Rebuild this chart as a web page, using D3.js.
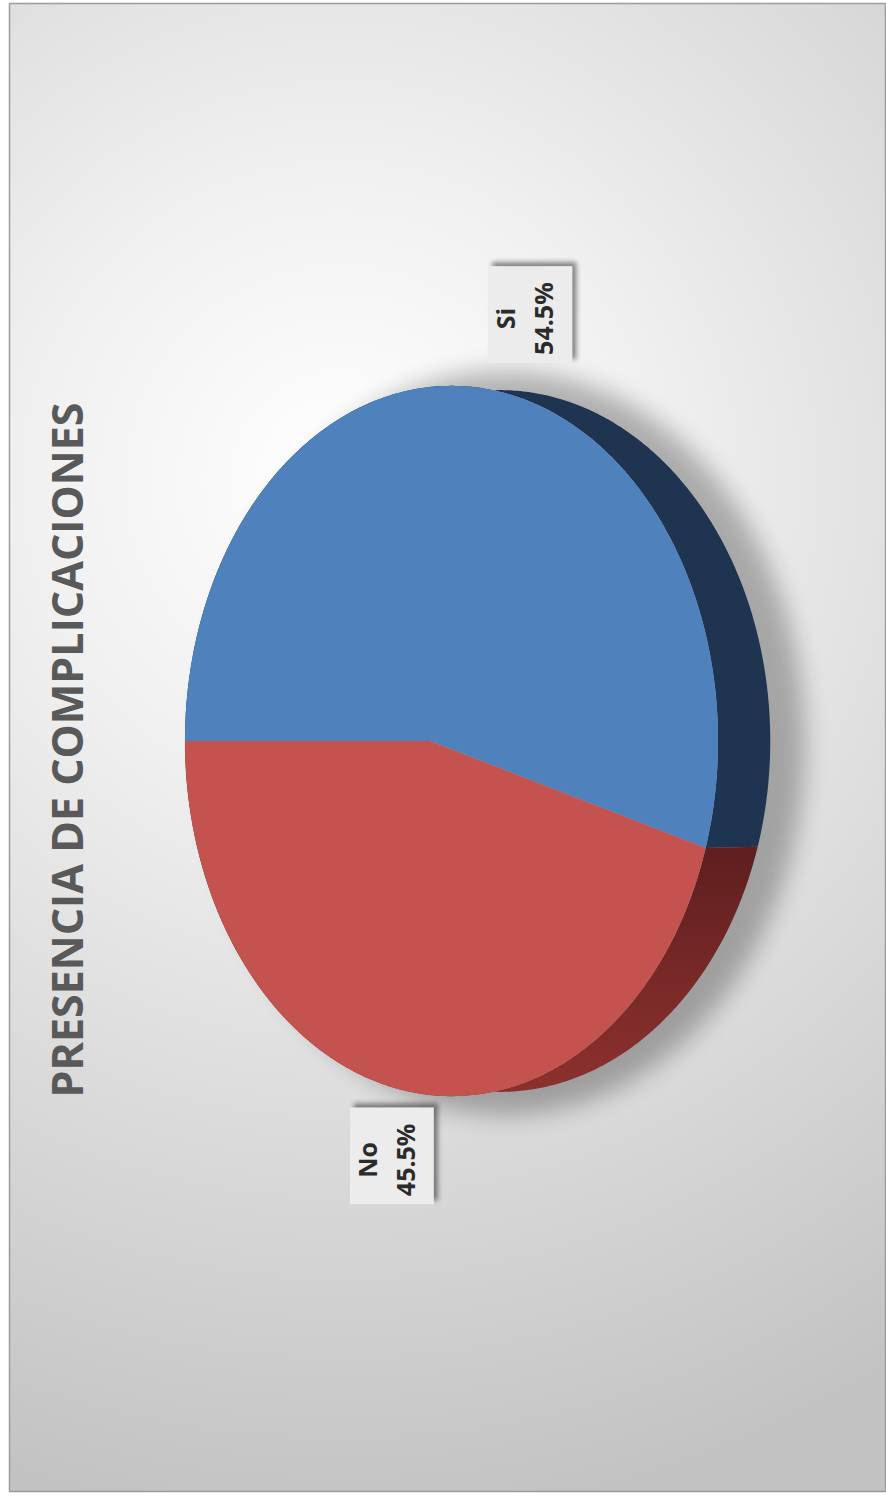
<!DOCTYPE html>
<html>
<head>
<meta charset="utf-8">
<script src="https://cdn.jsdelivr.net/npm/d3@7"></script>
<style>
  html, body { margin: 0; padding: 0; background: #ffffff; }
  svg { display: block; }
</style>
</head>
<body>
<svg id="chart" width="886" height="1497"></svg>
<script>
// ---- data ----
const categories = ["Si", "No"];
const values = [54.5, 45.5];
const valueLabels = ["54.5%", "45.5%"];
const title = "PRESENCIA DE COMPLICACIONES";

// ---- styling ----
const topColors = ["#4f81bd", "#c4524f"];
const sideColors = ["#1f3450", "#6b2524"];

const W = 886, H = 1497;
const svg = d3.select("#chart");
const defs = svg.append("defs");

// background gradient
const bg = defs.append("radialGradient").attr("id", "bgGrad")
  .attr("gradientUnits", "userSpaceOnUse")
  .attr("cx", 340).attr("cy", 480).attr("r", 1050);
bg.append("stop").attr("offset", 0).attr("stop-color", "#ffffff");
bg.append("stop").attr("offset", 0.3).attr("stop-color", "#f0f0f0");
bg.append("stop").attr("offset", 1).attr("stop-color", "#c2c2c2");

const blurBig = defs.append("filter").attr("id", "blurBig")
  .attr("x", "-30%").attr("y", "-30%").attr("width", "160%").attr("height", "160%");
blurBig.append("feGaussianBlur").attr("stdDeviation", 12);

const blurSmall = defs.append("filter").attr("id", "blurSmall")
  .attr("x", "-20%").attr("y", "-20%").attr("width", "140%").attr("height", "140%");
blurSmall.append("feGaussianBlur").attr("stdDeviation", 2.5);

const redSide = defs.append("linearGradient").attr("id", "redSide")
  .attr("gradientUnits", "userSpaceOnUse")
  .attr("x1", 0).attr("y1", 850).attr("x2", 0).attr("y2", 1080);
redSide.append("stop").attr("offset", 0).attr("stop-color", "#5e1f1e");
redSide.append("stop").attr("offset", 0.6).attr("stop-color", "#7a2a28");
redSide.append("stop").attr("offset", 1).attr("stop-color", "#8a302d");

// chart area
svg.append("rect")
  .attr("x", 9.5).attr("y", 3.5).attr("width", 876).attr("height", 1488)
  .attr("fill", "url(#bgGrad)").attr("stroke", "#9c9c9c").attr("stroke-width", 1.5);

// ---- 3D pie projection (chart is turned a quarter turn; 12 o'clock points left) ----
const cx = 430, cy = 741;       // hub of the top face
const A = 264.8;                // far/near half-extent scale
const B = 354;                  // lateral half-extent
const k = 0.0807;               // perspective strength
const depth = 48;               // thickness of the disc

function project(theta, r = 1, level = 0) {
  const p = -Math.cos(theta) * r;
  const q = Math.sin(theta) * r;
  const den = 1 - k * p;
  return [
    cx + A * p / den + level * depth / den,
    cy - B * (1 - 0.012 * level) * q / den
  ];
}

function arcPoints(a0, a1, level) {
  const n = Math.max(2, Math.ceil(Math.abs(a1 - a0) / 0.01));
  return d3.range(n + 1).map(i => project(a0 + (a1 - a0) * i / n, 1, level));
}

const pie = d3.pie().sort(null).value(d => d);
const arcs = pie(values);
const line = d3.line();

// cast shadow of the disc
svg.append("ellipse")
  .attr("cx", cx + 75).attr("cy", cy + 2)
  .attr("rx", 300).attr("ry", 372)
  .attr("fill", "#000").attr("opacity", 0.28)
  .attr("filter", "url(#blurBig)");

// side walls
svg.append("g").selectAll("path")
  .data(arcs)
  .join("path")
  .attr("d", d => {
    const top = arcPoints(d.startAngle, d.endAngle, 0);
    const bottom = arcPoints(d.endAngle, d.startAngle, 1);
    return line(top.concat(bottom)) + "Z";
  })
  .attr("fill", (d, i) => i === 1 ? "url(#redSide)" : sideColors[i]);

// top faces
svg.append("g").selectAll("path")
  .data(arcs)
  .join("path")
  .attr("d", d => line([[cx, cy]].concat(arcPoints(d.startAngle, d.endAngle, 0))) + "Z")
  .attr("fill", (d, i) => topColors[i]);

// ---- data labels ----
const labelNudge = [55, 6];
const boxW = 84, boxH = 97;
const labels = svg.append("g").selectAll("g")
  .data(arcs)
  .join("g")
  .attr("transform", (d, i) => {
    const mid = (d.startAngle + d.endAngle) / 2;
    const [x, y] = project(mid, 1.2, 0);
    return `translate(${x + labelNudge[i]},${y})`;
  });

labels.append("rect")
  .attr("x", -boxW / 2 + 4).attr("y", -boxH / 2 - 4)
  .attr("width", boxW).attr("height", boxH)
  .attr("fill", "#000").attr("opacity", 0.45)
  .attr("filter", "url(#blurSmall)");
labels.append("rect")
  .attr("x", -boxW / 2).attr("y", -boxH / 2)
  .attr("width", boxW).attr("height", boxH)
  .attr("fill", "#ececec");

const labelText = labels.append("text")
  .attr("transform", "rotate(-90)")
  .attr("text-anchor", "middle")
  .attr("font-family", "'Open Sans', sans-serif")
  .attr("font-weight", 700)
  .attr("font-size", 25)
  .attr("fill", "#2b2b2b");
labelText.append("tspan").attr("x", -4).attr("y", -15).text((d, i) => categories[i]);
labelText.append("tspan").attr("x", -4).attr("y", 23).text((d, i) => valueLabels[i]);

// ---- title ----
svg.append("text")
  .attr("transform", "translate(83,750) rotate(-90)")
  .attr("text-anchor", "middle")
  .attr("font-family", "'Open Sans', sans-serif")
  .attr("font-weight", 700)
  .attr("font-size", 43)
  .attr("textLength", 695)
  .attr("lengthAdjust", "spacingAndGlyphs")
  .attr("fill", "#595959")
  .text(title);
</script>
</body>
</html>
